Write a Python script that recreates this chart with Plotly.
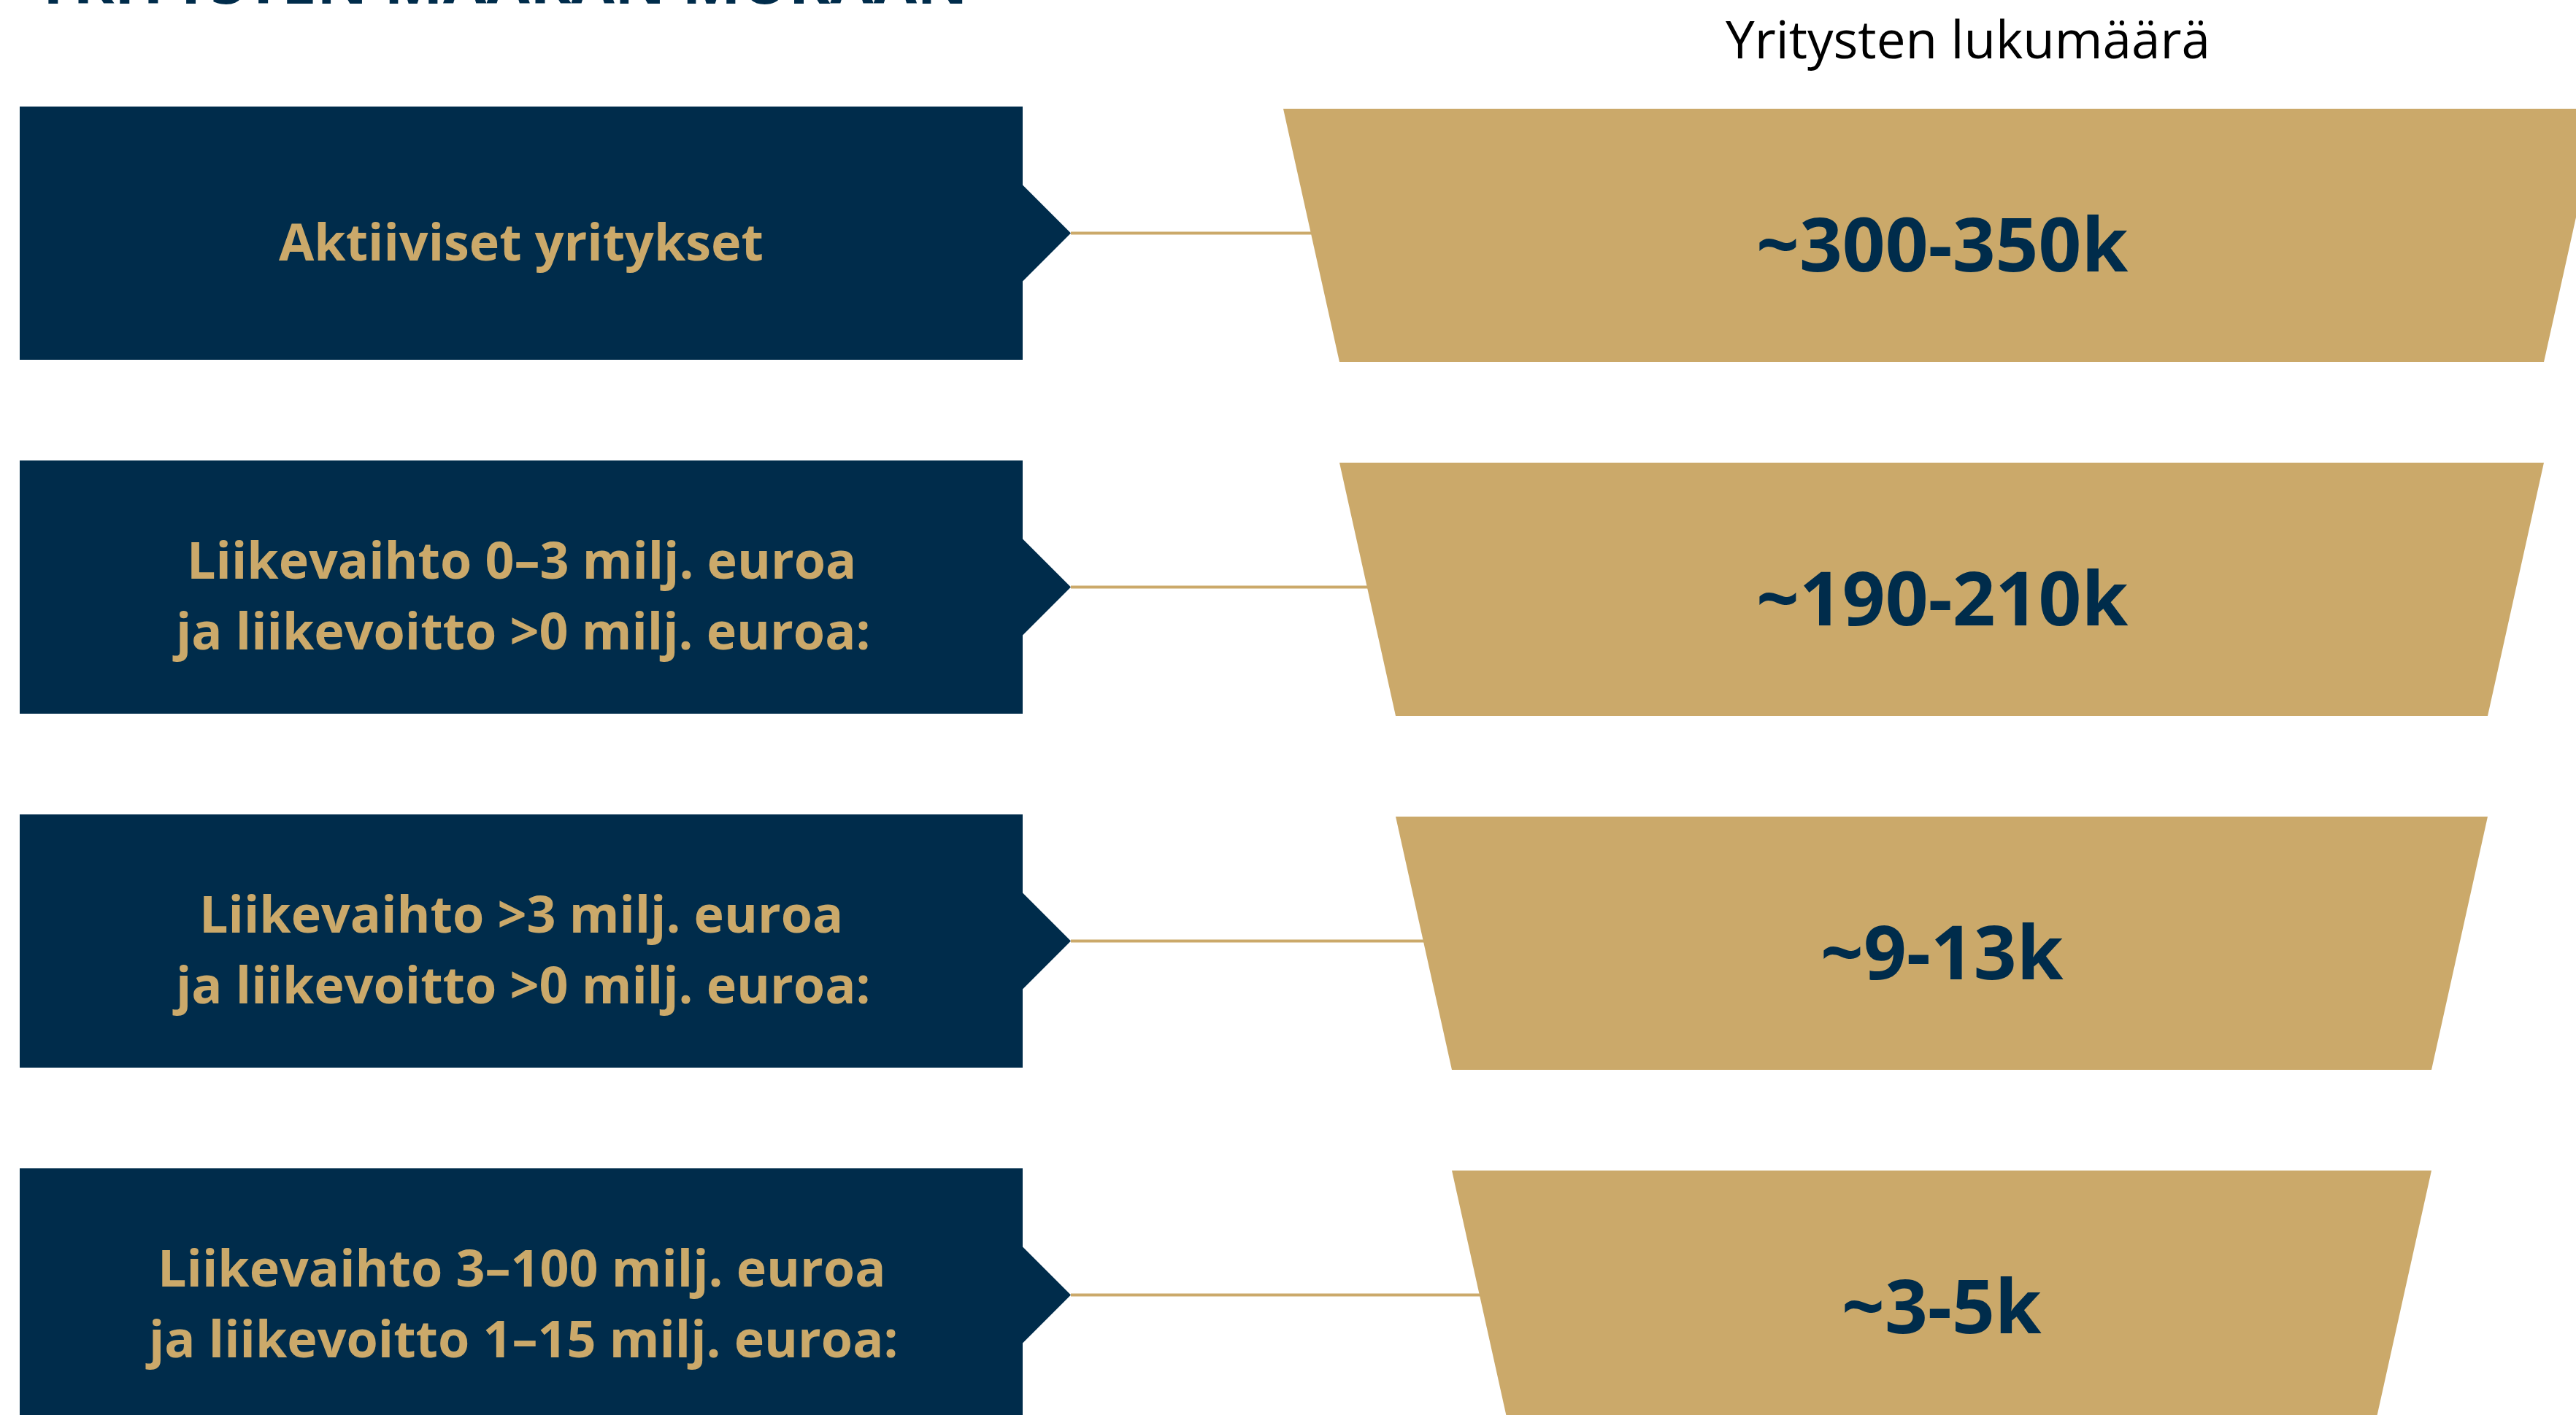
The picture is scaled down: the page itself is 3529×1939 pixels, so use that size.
import plotly.graph_objects as go

# ---------------- data ----------------
categories = [
    ["Aktiiviset yritykset"],
    ["Liikevaihto 0–3 milj. euroa", "ja liikevoitto >0 milj. euroa:"],
    ["Liikevaihto >3 milj. euroa", "ja liikevoitto >0 milj. euroa:"],
    ["Liikevaihto 3–100 milj. euroa", "ja liikevoitto 1–15 milj. euroa:"],
]
counts = ["~300-350k", "~190-210k", "~9-13k", "~3-5k"]
title_text = "YRITYSTEN MÄÄRÄN MUKAAN"
column_title = "Yritysten lukumäärä"

# ---------------- layout constants ----------------
W, H = 3529, 1939
NAVY = "#002C4B"
GOLD = "#CBA96A"
FONT = "Open Sans"

ROW_TOP, ROW_STEP, ROW_H = 146, 485, 347
BOX_X0, BOX_X1, TIP_X, NOTCH = 27, 1401, 1467, 66
FUN_CX, FUN_HALF0, FUN_STEP = 2660, 902, 77
TRAP_OFF = 3
LINE_GAP = 97

fig = go.Figure()
annotations = []

for i, (cat_lines, cnt) in enumerate(zip(categories, counts)):
    y0 = ROW_TOP + i * ROW_STEP
    y1 = y0 + ROW_H
    yc = (y0 + y1) / 2
    ht = FUN_HALF0 - i * FUN_STEP
    hb = FUN_HALF0 - (i + 1) * FUN_STEP
    edge_x = FUN_CX - (ht + hb) / 2
    # connector line
    fig.add_trace(go.Scatter(
        x=[TIP_X, edge_x + 5], y=[yc, yc], mode="lines",
        line=dict(color=GOLD, width=4), hoverinfo="skip", showlegend=False))
    # navy arrow box
    fig.add_trace(go.Scatter(
        x=[BOX_X0, BOX_X1, BOX_X1, TIP_X, BOX_X1, BOX_X1, BOX_X0, BOX_X0],
        y=[y0, y0, yc - NOTCH, yc, yc + NOTCH, y1, y1, y0],
        mode="lines", fill="toself", fillcolor=NAVY,
        line=dict(width=0, color=NAVY), hoverinfo="skip", showlegend=False))
    # gold trapezoid
    ty0, ty1 = y0 + TRAP_OFF, y1 + TRAP_OFF
    fig.add_trace(go.Scatter(
        x=[FUN_CX - ht, FUN_CX + ht, FUN_CX + hb, FUN_CX - hb, FUN_CX - ht],
        y=[ty0, ty0, ty1, ty1, ty0],
        mode="lines", fill="toself", fillcolor=GOLD,
        line=dict(width=0, color=GOLD), hoverinfo="skip", showlegend=False))
    # category text lines
    n = len(cat_lines)
    for k, line_txt in enumerate(cat_lines):
        ly = yc + 10 + (k - (n - 1) / 2) * LINE_GAP
        annotations.append(dict(
            x=(BOX_X0 + BOX_X1) / 2, y=ly, xref="x", yref="y",
            text=line_txt, showarrow=False, xanchor="center", yanchor="middle",
            font=dict(family=FONT, size=70, color=GOLD, weight=700)))
    annotations.append(dict(
        x=FUN_CX, y=yc + 12, xref="x", yref="y",
        text=cnt, showarrow=False, xanchor="center", yanchor="middle",
        font=dict(family=FONT, size=103, color=NAVY, weight=700)))

annotations.append(dict(
    x=2696 / W, y=1 - 52 / H, xref="paper", yref="paper",
    text=column_title, showarrow=False, xanchor="center", yanchor="middle",
    font=dict(family=FONT, size=71, color="#000000", weight=400)))
annotations.append(dict(
    x=44 / W, y=1 - 32 / H, xref="paper", yref="paper",
    text=title_text, showarrow=False, xanchor="left", yanchor="bottom",
    font=dict(family=FONT, size=86, color=NAVY, weight=700)))

fig.update_layout(
    width=W, height=H,
    margin=dict(l=0, r=0, t=0, b=0),
    paper_bgcolor="white", plot_bgcolor="white",
    xaxis=dict(range=[0, W], visible=False, fixedrange=True),
    yaxis=dict(range=[H, 0], visible=False, fixedrange=True),
    annotations=annotations,
    showlegend=False,
)

fig.write_html(
    "out.html",
    config={"displayModeBar": False},
    post_script="document.body.style.margin='0';document.body.style.overflow='hidden';",
)
